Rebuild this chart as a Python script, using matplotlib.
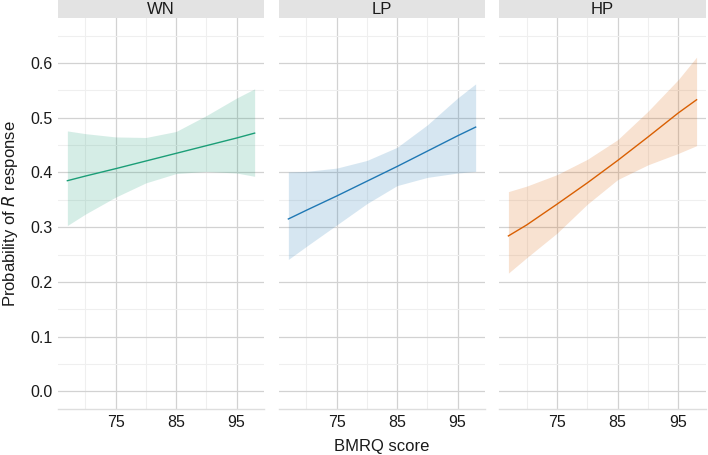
import matplotlib
matplotlib.use("Agg")
import matplotlib.pyplot as plt
import numpy as np

plt.rcParams['font.family'] = ['Liberation Sans', 'DejaVu Sans']

panels = ["WN", "LP", "HP"]
colors = ["#1b9e77", "#1f78b4", "#d95f02"]

bmrq = [67, 70, 75, 80, 85, 90, 95, 98]

wn_fit = [0.385, 0.3935, 0.407, 0.421, 0.435, 0.449, 0.463, 0.472]
wn_upper = [0.476, 0.471, 0.465, 0.464, 0.475, 0.504, 0.536, 0.553]
wn_lower = [0.303, 0.324, 0.355, 0.381, 0.398, 0.402, 0.399, 0.393]

lp_fit = [0.315, 0.331, 0.357, 0.384, 0.411, 0.439, 0.467, 0.483]
lp_upper = [0.401, 0.402, 0.408, 0.422, 0.446, 0.487, 0.536, 0.562]
lp_lower = [0.241, 0.265, 0.304, 0.343, 0.376, 0.391, 0.399, 0.402]

hp_fit = [0.284, 0.304, 0.342, 0.381, 0.422, 0.465, 0.509, 0.533]
hp_upper = [0.365, 0.375, 0.396, 0.424, 0.460, 0.512, 0.570, 0.611]
hp_lower = [0.216, 0.244, 0.289, 0.342, 0.387, 0.414, 0.435, 0.449]

fits = [wn_fit, lp_fit, hp_fit]
uppers = [wn_upper, lp_upper, hp_upper]
lowers = [wn_lower, lp_lower, hp_lower]

x_ticks = [75, 85, 95]
x_minor = [70, 80, 90]
y_ticks = [0.0, 0.1, 0.2, 0.3, 0.4, 0.5, 0.6]
y_minor = [0.05, 0.15, 0.25, 0.35, 0.45, 0.55, 0.65]

W, H = 708, 455
fig = plt.figure(figsize=(W / 100, H / 100), dpi=100)

panel_x = [(58, 264), (279, 485), (499, 706)]
top_px, bot_px = 18, 409
strip_top = 0

xr = (65.45, 99.55)
yr = (-0.0325, 0.6825)

for i, name in enumerate(panels):
    x0, x1 = panel_x[i]
    ax = fig.add_axes([x0 / W, 1 - bot_px / H, (x1 - x0) / W, (bot_px - top_px) / H])
    ax.set_xlim(*xr)
    ax.set_ylim(*yr)
    ax.set_facecolor("white")
    for s in ["top", "right", "left"]:
        ax.spines[s].set_visible(False)
    ax.spines["bottom"].set_color("#dedede")
    ax.spines["bottom"].set_linewidth(1.0)
    ax.set_xticks(x_ticks)
    ax.set_xticks(x_minor, minor=True)
    ax.set_yticks(y_ticks)
    ax.set_yticks([v for v in y_minor if v < yr[1]], minor=True)
    ax.grid(True, which="major", color="#d2d2d2", linewidth=0.9)
    ax.grid(True, which="minor", color="#efefef", linewidth=0.8)
    ax.set_axisbelow(True)
    ax.tick_params(which="both", length=0, labelsize=11.5, colors="#1a1a1a", pad=4)
    ax.set_xticklabels([str(v) for v in x_ticks])
    if i == 0:
        ax.set_yticklabels([f"{v:.1f}" for v in y_ticks])
    else:
        ax.set_yticklabels([])

    ax.fill_between(bmrq, lowers[i], uppers[i], color=colors[i], alpha=0.18, linewidth=0)
    ax.plot(bmrq, fits[i], color=colors[i], linewidth=1.0)

    # strip
    sax = fig.add_axes([x0 / W, 1 - top_px / H, (x1 - x0) / W, (top_px - strip_top) / H])
    sax.set_facecolor("#e3e3e3")
    sax.set_xticks([])
    sax.set_yticks([])
    for s in sax.spines.values():
        s.set_visible(False)
    sax.text(0.5, 0.45, name, ha="center", va="center", fontsize=12,
             color="#1a1a1a", transform=sax.transAxes)

fig.text((279 + 485) / 2 / W, 1 - 447 / H, "BMRQ score", ha="center", va="center",
         fontsize=12, color="#1a1a1a")
fig.text(10 / W, 1 - 214 / H, r"Probability of $\mathit{R}$ response", ha="center",
         va="center", rotation=90, fontsize=12, color="#1a1a1a")

fig.savefig("out.png", dpi=100)
